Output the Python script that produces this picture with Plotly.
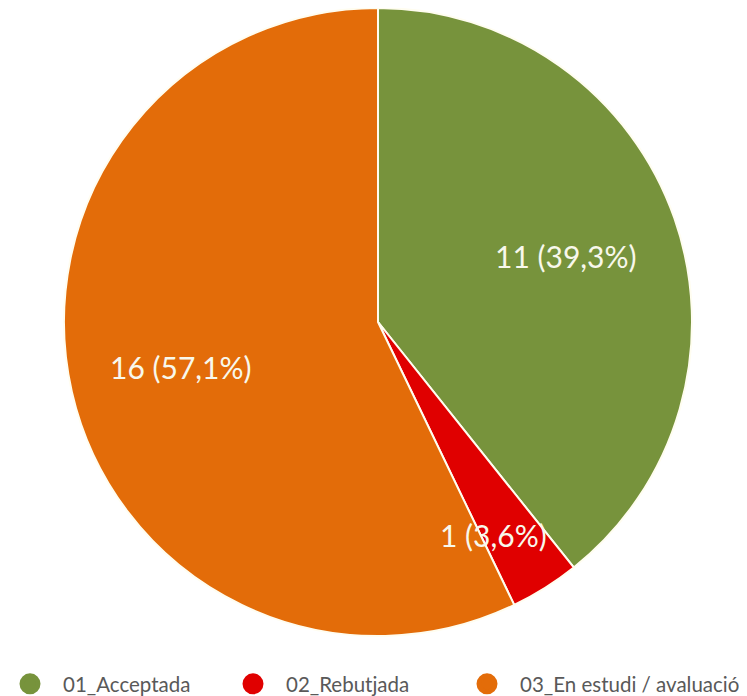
import math
import plotly.graph_objects as go

categories = ["01_Acceptada", "02_Rebutjada", "03_En estudi / avaluació"]
values = [11, 1, 16]
colors = ["#77933C", "#E00000", "#E36C09"]
label_radius = [0.635, 0.771, 0.645]
label_angle_nudge = [0.0, 3.7, 0.0]  # degrees

W, H = 747, 696
OFF = 8  # page body margin
cx, cy, R = 378 - OFF, 322 - OFF, 314
legend_x_px = [-11, 212, 446]

total = sum(values)
texts = []
for v in values:
    pct = f"{v / total * 100:.1f}".replace(".", ",")
    texts.append(f"{v} ({pct}%)")

fig = go.Figure()
fig.add_trace(go.Pie(
    labels=categories,
    values=values,
    sort=False,
    direction="clockwise",
    rotation=0,
    marker=dict(colors=colors, line=dict(color="#FFFDF0", width=2)),
    textinfo="none",
    hoverinfo="label+value+percent",
    showlegend=False,
    domain=dict(x=[(cx - R) / W, (cx + R) / W], y=[1 - (cy + R) / H, 1 - (cy - R) / H]),
))

legend_names = ["legend", "legend2", "legend3"]
for c, col, ln in zip(categories, colors, legend_names):
    fig.add_trace(go.Scatter(x=[None], y=[None], mode="markers", name=c, legend=ln,
                             marker=dict(color=col, size=16, symbol="circle",
                                         line=dict(color=col, width=5))))

annotations = []
cum = 0
for v, t, rf, nd in zip(values, texts, label_radius, label_angle_nudge):
    mid = (cum + v / 2) / total * 2 * math.pi + math.radians(nd)
    cum += v
    px = cx + rf * R * math.sin(mid)
    py = cy - rf * R * math.cos(mid)
    annotations.append(dict(x=px / W, y=1 - py / H, xref="paper", yref="paper",
                            xanchor="center", yanchor="middle",
                            text=t, showarrow=False,
                            font=dict(family="Lato", size=30, color="#F8F8EC")))

legend_style = dict(orientation="h", y=0.0, xanchor="left", yanchor="bottom",
                    font=dict(family="Lato", size=20.5, color="#595959"),
                    itemwidth=56, bgcolor="rgba(0,0,0,0)")

fig.update_layout(
    width=W, height=H,
    margin=dict(l=0, r=0, t=0, b=0, autoexpand=False),
    paper_bgcolor="white", plot_bgcolor="white",
    xaxis=dict(visible=False), yaxis=dict(visible=False),
    annotations=annotations,
    legend=dict(x=legend_x_px[0] / W, **legend_style),
    legend2=dict(x=legend_x_px[1] / W, **legend_style),
    legend3=dict(x=legend_x_px[2] / W, **legend_style),
)

fig.write_html("out.html")
